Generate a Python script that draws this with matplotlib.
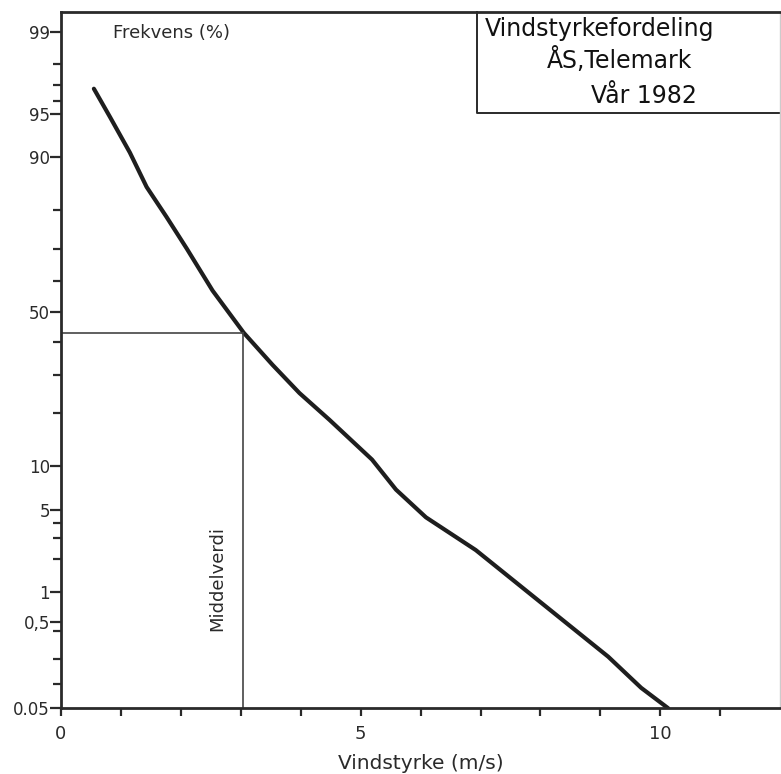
"""
Wind speed distribution on a normal probability scale (Ås, Telemark, spring 1982).
"""

from statistics import NormalDist
import matplotlib
matplotlib.use('Agg')
import matplotlib.pyplot as plt
import numpy as np

# Curve: wind speed (m/s) and cumulative frequency (%)
windSpeed = [0.55, 0.82, 1.15, 1.43, 1.76, 2.1, 2.53, 3.05, 3.53, 3.98, 4.48, 5.19, 5.59, 6.09, 6.92, 8.02, 9.13, 9.68, 10.13]
frequency = [96.8, 94.7, 90.7, 85.0, 78.5, 70.0, 57.0, 43.1, 33.0, 25.0, 18.5, 11.0, 7.0, 4.4, 2.4, 0.78, 0.21, 0.09, 0.05]

# Mean value marker
meanSpeed = 3.03
meanFrequency = 43.1

# Axis ticks
yMajorTicks = [0.05, 0.5, 1, 5, 10, 50, 90, 95, 99]
yMajorLabels = ['0.05', '0,5', '1', '5', '10', '50', '90', '95', '99']
yMinorTicks = [0.1, 0.2, 0.4, 2, 3, 4, 20, 30, 40, 60, 70, 80, 96, 97, 98]
xMajorTicks = [0, 5, 10]
xMinorTicks = [1, 2, 3, 4, 6, 7, 8, 9, 11]

normal = NormalDist()
plt.rcParams['font.family'] = ['DejaVu Sans']


def probToZ(p):
    """
    Convert percent values to standard normal quantiles.
    """
    p = np.clip(np.asarray(p, dtype=float) / 100.0, 1e-9, 1 - 1e-9)
    return np.vectorize(normal.inv_cdf)(p)


def zToProb(z):
    """
    Convert standard normal quantiles back to percent.
    """
    z = np.asarray(z, dtype=float)
    return np.vectorize(normal.cdf)(z) * 100.0


fig = plt.figure(figsize=(7.81, 7.74), dpi=100)
ax = fig.add_axes([0.078, 0.085, 0.921, 0.8995])

ax.set_yscale('function', functions=(probToZ, zToProb))
ax.set_xlim(0, 12)
ax.set_ylim(0.05, 99.36)

ink = '#2a2a2a'

# Main distribution curve
ax.plot(windSpeed, frequency, color='#1e1e1e', linewidth=3.0,
        solid_capstyle='round', solid_joinstyle='round')

# Mean value guide lines
ax.plot([0, meanSpeed], [meanFrequency, meanFrequency], color='#444444', linewidth=1.2)
ax.plot([meanSpeed, meanSpeed], [0.05, meanFrequency], color='#444444', linewidth=1.2)

# Ticks
ax.set_yticks(yMajorTicks)
ax.set_yticklabels(yMajorLabels)
ax.set_yticks(yMinorTicks, minor=True)
ax.set_xticks(xMajorTicks)
ax.set_xticks(xMinorTicks, minor=True)
ax.tick_params(axis='both', which='both', direction='out', color=ink, width=1.6, labelcolor=ink)
ax.tick_params(axis='y', which='major', length=8, labelsize=12, pad=0)
ax.tick_params(axis='y', which='minor', length=6)
ax.tick_params(axis='x', which='major', length=6, labelsize=13, pad=6)
ax.tick_params(axis='x', which='minor', length=6)

for side in ['left', 'bottom', 'top']:
    ax.spines[side].set_color(ink)
    ax.spines[side].set_linewidth(2.0)
ax.spines['right'].set_color('#cccccc')
ax.spines['right'].set_linewidth(1.0)

ax.set_xlabel('Vindstyrke (m/s)', fontsize=14.5, color=ink, labelpad=8)

# Annotations
ax.text(0.072, 0.97, 'Frekvens (%)', transform=ax.transAxes, fontsize=13,
        color=ink, ha='left', va='center')
ax.text(2.6, 0.187, 'Middelverdi', transform=ax.get_xaxis_transform(), fontsize=13,
        color=ink, rotation=90, ha='center', va='center')

# Title box in the upper right corner
ax.plot([0.578, 0.578, 1.0], [1.0, 0.855, 0.855], transform=ax.transAxes,
        color=ink, linewidth=1.4, clip_on=False)
ax.text(0.59, 0.975, 'Vindstyrkefordeling', transform=ax.transAxes, fontsize=17,
        color='#111111', ha='left', va='center')
ax.text(0.777, 0.931, 'ÅS,Telemark', transform=ax.transAxes, fontsize=17,
        color='#111111', ha='center', va='center')
ax.text(0.81, 0.88, 'Vår 1982', transform=ax.transAxes, fontsize=17,
        color='#111111', ha='center', va='center')

fig.savefig('out.png', dpi=100)
